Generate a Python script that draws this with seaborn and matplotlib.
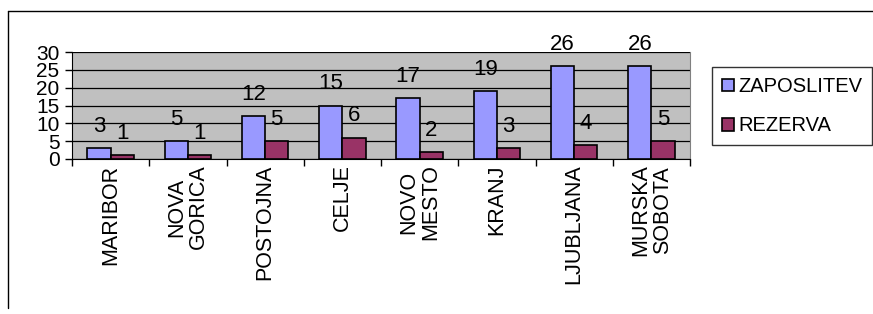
import matplotlib

matplotlib.use("Agg")
import matplotlib.pyplot as plt
import matplotlib.lines as mlines
import matplotlib.patches as mpatches
import numpy as np
import pandas as pd
import seaborn as sns

# --- data ---
cities = ["MARIBOR", "NOVA GORICA", "POSTOJNA", "CELJE", "NOVO MESTO",
          "KRANJ", "LJUBLJANA", "MURSKA SOBOTA"]
zaposlitev = [3, 5, 12, 15, 17, 19, 26, 26]
rezerva = [1, 1, 5, 6, 2, 3, 4, 5]
series_names = ["ZAPOSLITEV", "REZERVA"]
y_ticks = [0, 5, 10, 15, 20, 25, 30]

colors = {"ZAPOSLITEV": "#9999FF", "REZERVA": "#993366"}

df = pd.DataFrame({
    "city": cities * 2,
    "series": [series_names[0]] * len(cities) + [series_names[1]] * len(cities),
    "value": zaposlitev + rezerva,
})

sns.set_style("white")
plt.rcParams["font.family"] = ["Liberation Sans", "DejaVu Sans"]
plt.rcParams["text.color"] = "black"
plt.rcParams["xtick.color"] = "black"
plt.rcParams["ytick.color"] = "black"
plt.rcParams["xtick.labelcolor"] = "black"
plt.rcParams["ytick.labelcolor"] = "black"

W, H = 873, 314
fig = plt.figure(figsize=(W / 100, H / 100), dpi=100)
ax = fig.add_axes([72 / W, 1 - 159 / H, (690 - 72) / W, (159 - 52) / H])
ax.set_facecolor("#C0C0C0")

sns.barplot(
    data=df, x="city", y="value", hue="series",
    palette=colors, saturation=1, width=0.6,
    edgecolor="black", linewidth=1.2, ax=ax, zorder=3,
)

# value labels floating above each bar
for cont in ax.containers:
    ax.bar_label(cont, padding=8, fontsize=16, color="black", clip_on=False)

ax.set_ylim(0, 30)
ax.set_xlim(-0.5, len(cities) - 0.5)
ax.set_yticks(y_ticks)
ax.yaxis.grid(True, color="black", linewidth=0.9)
ax.set_axisbelow(True)

ax.set_xticks(range(len(cities)))
ax.set_xticklabels([c.replace(" ", "\n") for c in cities], rotation=90,
                   ha="center", va="top", multialignment="center",
                   fontsize=15.5, linespacing=1.05, color="black")
ax.set_xticks(np.arange(-0.5, len(cities), 1), minor=True)
ax.tick_params(axis="x", which="major", length=0, pad=4)
ax.tick_params(axis="x", which="minor", length=5, width=1, color="black",
               direction="out", bottom=True)
ax.tick_params(axis="y", length=5, width=1, color="black", direction="out",
               left=True, pad=4, labelsize=15, labelcolor="black")

ax.set_xlabel("")
ax.set_ylabel("")
ax.spines["top"].set_visible(False)
ax.spines["left"].set_color("black")
ax.spines["bottom"].set_color("black")
ax.spines["right"].set_color("#808080")

# legend outside the plot area
ax.get_legend().remove()
handles = [mpatches.Patch(facecolor=colors[s], edgecolor="black", linewidth=1.2)
           for s in series_names]
leg = fig.legend(
    handles, series_names, loc="upper left",
    bbox_to_anchor=(712 / W, 1 - 67 / H), borderaxespad=0,
    fontsize=14.5, frameon=True, fancybox=False, edgecolor="black",
    handlelength=0.6, handleheight=0.6, handletextpad=0.2,
    labelspacing=1.0, borderpad=0.5,
)
leg.get_frame().set_linewidth(1)
for t in leg.get_texts():
    t.set_color("black")

# outer chart frame (left and top edges visible)
fig.add_artist(mlines.Line2D([8 / W, 8 / W], [1 - 11 / H, 1 - 308 / H],
                             color="black", linewidth=1))
fig.add_artist(mlines.Line2D([8 / W, 1], [1 - 11 / H, 1 - 11 / H],
                             color="black", linewidth=1))

fig.savefig("out.png", dpi=100)
